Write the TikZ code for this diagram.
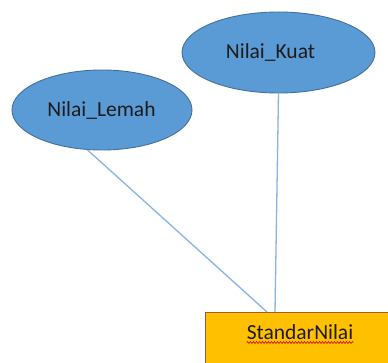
\documentclass[tikz,border=0pt]{standalone}
\usepackage{fontspec}
\setmainfont{Carlito}
\usetikzlibrary{shapes.geometric,decorations.pathmorphing,calc}
\definecolor{bubble}{HTML}{5B9BD5}
\definecolor{bubbleedge}{HTML}{41719C}
\definecolor{linkblue}{HTML}{86B4E3}
\definecolor{boxfill}{HTML}{FFC000}
\definecolor{boxedge}{HTML}{9C5A2E}
\definecolor{txt}{HTML}{1C1C1C}
\tikzset{
  attr/.style={ellipse, draw=bubbleedge, line width=0.9pt, fill=bubble, inner sep=0pt},
  attrtext/.style={text=txt, inner sep=0pt, anchor=base, font=\fontsize{21.5}{25}\selectfont},
  entity/.style={rectangle, draw=boxedge, line width=0.9pt, fill=boxfill, inner sep=0pt, anchor=north west},
  link/.style={draw=linkblue, line width=1.3pt},
  spell/.style={draw=red!85!black, line width=0.6pt, decorate,
    decoration={snake, amplitude=0.9pt, segment length=3pt}}
}
\begin{document}
\begin{tikzpicture}[x=1pt,y=-1pt]
  \clip (0,0) rectangle (388,363);
  \fill[white] (0,0) rectangle (388,363);

  % attribute ellipses
  \node[attr, minimum width=180pt, minimum height=80pt] (lemah) at (102,110) {};
  \node[attrtext] (lemahtext) at (101.5,117) {Nilai\_Lemah};
  \node[attr, minimum width=193pt, minimum height=81pt] (kuat) at (278.5,52.5) {};
  \node[attrtext] (kuattext) at (270.5,59) {Nilai\_Kuat};

  % entity box
  \node[entity, minimum width=200pt, minimum height=70pt] (std) at (205,312) {};
  \node[attrtext] (stdtext) at (300,339) {StandarNilai};
  \draw[spell] ($(stdtext.base west)+(0,3.5)$) -- ($(stdtext.base east)+(0,3.5)$);

  % connection points on the box
  \coordinate (jL) at ($(std.north west)+(62,0)$);
  \coordinate (jK) at ($(std.north west)+(70,0)$);

  % connectors
  \draw[link] (lemah.250.5) -- (jL);
  \draw[link] (kuat.south) -- (jK);
\end{tikzpicture}
\end{document}
